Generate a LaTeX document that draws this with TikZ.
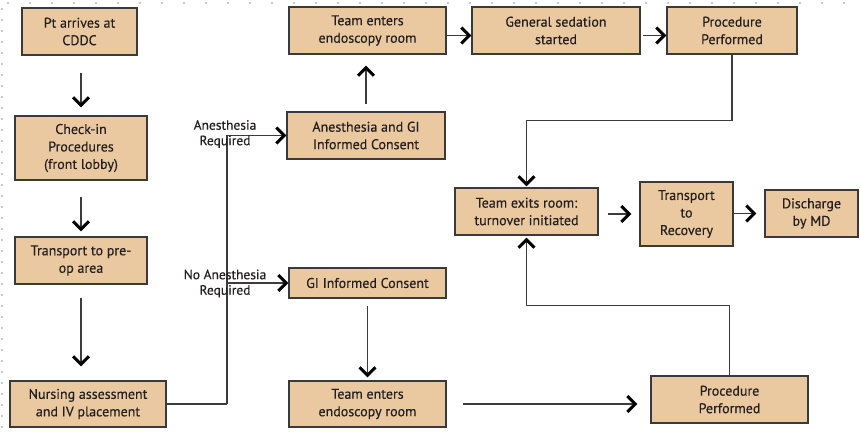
\documentclass[tikz,border=0pt]{standalone}
\usepackage{fontspec}
\setmainfont{PT Sans}
\newfontfamily\boxfont[FakeBold=0.35]{PT Sans}
\usetikzlibrary{arrows.meta}
\definecolor{boxfill}{HTML}{EBC9A0}
\definecolor{boxline}{HTML}{3A3A3A}
\definecolor{conn}{HTML}{3C3C3C}
\definecolor{txt}{HTML}{231F20}
\definecolor{dotc}{HTML}{C8C8D6}
\tikzset{
  stepbox/.style={draw=boxline, fill=boxfill, line width=1.2pt, align=center, inner sep=2pt,
    font=\boxfont\fontsize{14}{17.5}\selectfont, text=txt},
  conline/.style={draw=conn, line width=1.6pt},
  arr/.style={conline, -{Straight Barb[length=8pt,width=16pt,line width=3pt,color=black]}},
  lbl/.style={align=center, font=\boxfont\fontsize{13.5}{15.5}\selectfont, text=txt, inner sep=0pt}
}
\begin{document}
\begin{tikzpicture}[x=1pt,y=-1pt]
\useasboundingbox (0,0) rectangle (860,432);
\fill[white] (0,0) rectangle (860,432);
% faint dotted frame
\draw[dotc, line width=2pt, dash pattern=on 2pt off 20pt] (7,3) -- (860,3);
\draw[dotc, line width=2pt, dash pattern=on 2pt off 9pt] (2,8) -- (2,432);

% boxes
\node[stepbox, minimum width=115pt, minimum height=47pt] (pt) at (79.5,31.5) {Pt arrives at\\CDDC};
\node[stepbox, minimum width=132pt, minimum height=64pt] (chk) at (81,148) {Check-in\\Procedures\\(front lobby)};
\node[stepbox, minimum width=132pt, minimum height=47pt] (tr) at (81,260.5) {Transport to pre-\\op area};
\node[stepbox, minimum width=156pt, minimum height=46pt] (nurse) at (88,404) {Nursing assessment\\and IV placement};
\node[stepbox, minimum width=157pt, minimum height=47pt] (tet) at (367.5,30.5) {Team enters\\endoscopy room};
\node[stepbox, minimum width=158pt, minimum height=47pt] (anes) at (366,135.5) {Anesthesia and GI\\Informed Consent};
\node[stepbox, minimum width=157pt, minimum height=30pt] (gi) at (367.5,283) {GI Informed Consent};
\node[stepbox, minimum width=157pt, minimum height=46pt] (teb) at (367.5,404) {Team enters\\endoscopy room};
\node[stepbox, minimum width=168pt, minimum height=47pt] (gen) at (556,30.5) {General sedation\\started};
\node[stepbox, minimum width=130pt, minimum height=47pt] (prt) at (732,30.5) {Procedure\\Performed};
\node[stepbox, minimum width=143pt, minimum height=47pt] (exit) at (526.5,211.5) {Team exits room:\\turnover initiated};
\node[stepbox, minimum width=93pt, minimum height=64pt] (rec) at (686.5,214) {Transport\\to\\Recovery};
\node[stepbox, minimum width=93pt, minimum height=47pt] (dis) at (811.5,213.5) {Discharge\\by MD};
\node[stepbox, minimum width=157pt, minimum height=47pt] (prb) at (729.5,399.5) {Procedure\\Performed};

% left column (vertical at x = 81)
\draw[arr, shorten <=17pt, shorten >=8pt] (chk.north |- pt.south) -- (chk.north);
\draw[arr, shorten <=16pt, shorten >=5pt] (chk.south) -- (tr.north);
\draw[arr, shorten <=13pt, shorten >=14pt] (tr.south) -- (tr.south |- nurse.north);

% branch
\coordinate (br) at (227,404);
\draw[conline] (nurse.east) -- (br);
\draw[arr] (br) |- (anes.west);
\draw[arr] (br) |- (gi.west);

% branch labels (drawn over the line)
\node[lbl] (lblA) at (225,134) {Anesthesia\\Required};
\node[lbl] (lblN) at (225,283.5) {No Anesthesia\\Required};

% anesthesia path
\draw[arr, shorten <=7pt, shorten >=11pt] (anes) -- (anes |- tet.south);
\draw[arr] ([yshift=-5pt]tet.east) -- ([yshift=-5pt]gen.west);
\draw[arr, shorten <=2pt] ([yshift=-5pt]gen.east) -- ([yshift=-5pt]prt.west);
\draw[arr, shorten >=1pt] (prt.south) -- ++(0,66) -| (exit.north);

% no anesthesia path
\draw[arr, shorten <=7pt, shorten >=3pt] (gi) -- (teb);
\draw[arr, shorten <=16pt, shorten >=13pt] (teb.east) -- (teb.east -| prb.west);
\draw[arr, shorten >=2pt] (prb.north) -- ++(0,-70) -| (exit.south);

% end of flow
\draw[arr, shorten <=9pt, shorten >=8pt] (exit.east |- rec.west) -- (rec.west);
\draw[arr, shorten >=8pt] (rec.east |- dis.west) -- (dis.west);
\end{tikzpicture}
\end{document}
